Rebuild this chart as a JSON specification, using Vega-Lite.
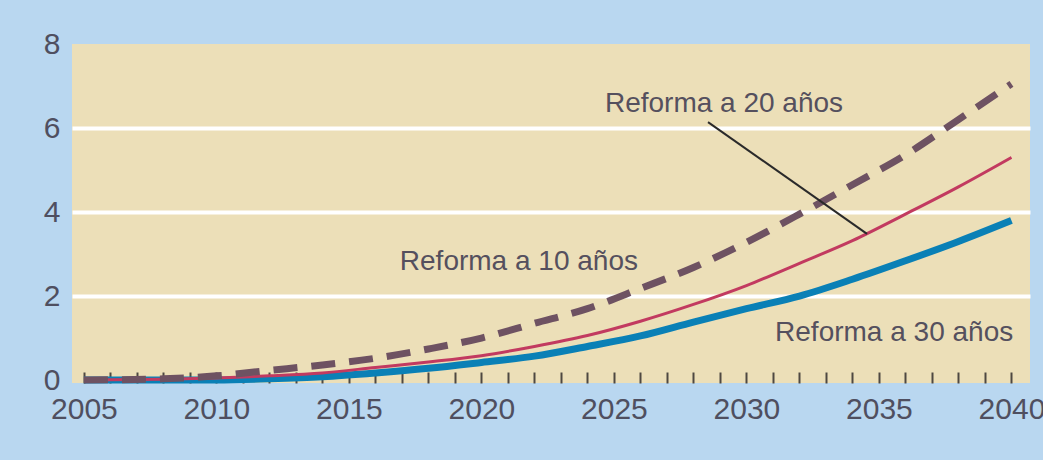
{
  "$schema": "https://vega.github.io/schema/vega-lite/v6.json",
  "width": 958,
  "height": 339,
  "autosize": {"type": "none"},
  "padding": {"left": 72, "top": 44, "right": 13, "bottom": 77},
  "background": "#b9d7f0",
  "config": {
    "view": {"fill": "#ecdfb8", "stroke": null},
    "font": "Liberation Sans"
  },
  "datasets": {
    "lines": [
      {"year": 2005, "value": 0, "serie": "10"},
      {"year": 2008, "value": 0.03, "serie": "10"},
      {"year": 2010, "value": 0.1, "serie": "10"},
      {"year": 2012, "value": 0.23, "serie": "10"},
      {"year": 2014, "value": 0.36, "serie": "10"},
      {"year": 2016, "value": 0.52, "serie": "10"},
      {"year": 2018, "value": 0.74, "serie": "10"},
      {"year": 2020, "value": 1.0, "serie": "10"},
      {"year": 2022, "value": 1.35, "serie": "10"},
      {"year": 2024, "value": 1.7, "serie": "10"},
      {"year": 2026, "value": 2.18, "serie": "10"},
      {"year": 2028, "value": 2.68, "serie": "10"},
      {"year": 2030, "value": 3.28, "serie": "10"},
      {"year": 2032, "value": 3.95, "serie": "10"},
      {"year": 2034, "value": 4.65, "serie": "10"},
      {"year": 2036, "value": 5.36, "serie": "10"},
      {"year": 2038, "value": 6.2, "serie": "10"},
      {"year": 2040, "value": 7.05, "serie": "10"},
      {"year": 2005, "value": 0, "serie": "20"},
      {"year": 2008, "value": 0.02, "serie": "20"},
      {"year": 2010, "value": 0.05, "serie": "20"},
      {"year": 2012, "value": 0.1, "serie": "20"},
      {"year": 2014, "value": 0.17, "serie": "20"},
      {"year": 2016, "value": 0.3, "serie": "20"},
      {"year": 2018, "value": 0.43, "serie": "20"},
      {"year": 2020, "value": 0.58, "serie": "20"},
      {"year": 2022, "value": 0.8, "serie": "20"},
      {"year": 2024, "value": 1.06, "serie": "20"},
      {"year": 2026, "value": 1.4, "serie": "20"},
      {"year": 2028, "value": 1.8, "serie": "20"},
      {"year": 2030, "value": 2.25, "serie": "20"},
      {"year": 2032, "value": 2.78, "serie": "20"},
      {"year": 2034, "value": 3.32, "serie": "20"},
      {"year": 2036, "value": 3.95, "serie": "20"},
      {"year": 2038, "value": 4.6, "serie": "20"},
      {"year": 2040, "value": 5.3, "serie": "20"},
      {"year": 2005, "value": 0, "serie": "30"},
      {"year": 2010, "value": 0.0, "serie": "30"},
      {"year": 2012, "value": 0.03, "serie": "30"},
      {"year": 2014, "value": 0.08, "serie": "30"},
      {"year": 2016, "value": 0.17, "serie": "30"},
      {"year": 2018, "value": 0.28, "serie": "30"},
      {"year": 2020, "value": 0.42, "serie": "30"},
      {"year": 2022, "value": 0.57, "serie": "30"},
      {"year": 2024, "value": 0.8, "serie": "30"},
      {"year": 2026, "value": 1.05, "serie": "30"},
      {"year": 2028, "value": 1.38, "serie": "30"},
      {"year": 2030, "value": 1.7, "serie": "30"},
      {"year": 2032, "value": 2.0, "serie": "30"},
      {"year": 2034, "value": 2.4, "serie": "30"},
      {"year": 2036, "value": 2.84, "serie": "30"},
      {"year": 2038, "value": 3.3, "serie": "30"},
      {"year": 2040, "value": 3.8, "serie": "30"}
    ],
    "labels": [
      {"text": "Reforma a 20 años", "year": 2024.66, "value": 6.57},
      {"text": "Reforma a 10 años", "year": 2016.92, "value": 2.8},
      {"text": "Reforma a 30 años", "year": 2031.08, "value": 1.12}
    ],
    "pointer": [
      {"year": 2028.55, "value": 6.14, "year2": 2034.55, "value2": 3.48}
    ]
  },
  "encoding": {
    "x": {
      "field": "year", "type": "quantitative",
      "scale": {"domain": [2004.55, 2040.7], "nice": false, "zero": false},
      "axis": {
        "title": null, "domain": false, "grid": false,
        "values": [2005,2006,2007,2008,2009,2010,2011,2012,2013,2014,2015,2016,2017,2018,2019,2020,2021,2022,2023,2024,2025,2026,2027,2028,2029,2030,2031,2032,2033,2034,2035,2036,2037,2038,2039,2040],
        "labelExpr": "datum.value % 5 == 0 ? datum.value : ''",
        "ticks": true, "tickSize": -11, "tickWidth": 2, "tickColor": "#4e4842",
        "labelFontSize": 30, "labelColor": "#4f4f60", "labelPadding": 22,
        "labelOverlap": false, "labelFlush": false
      }
    },
    "y": {
      "field": "value", "type": "quantitative",
      "scale": {"domain": [-0.07, 8], "nice": false, "zero": false},
      "axis": {
        "title": null, "domain": false, "ticks": false,
        "values": [0, 2, 4, 6, 8],
        "grid": true,
        "gridColor": {"condition": {"test": "datum.value == 0 || datum.value == 8", "value": "transparent"}, "value": "#ffffff"},
        "gridWidth": 4,
        "labelFontSize": 30, "labelColor": "#4f4f60", "labelPadding": 12
      }
    }
  },
  "layer": [
    {
      "data": {"name": "lines"},
      "transform": [{"filter": "datum.serie == '30'"}],
      "mark": {"type": "line", "color": "#0a80b6", "strokeWidth": 7, "interpolate": "monotone"}
    },
    {
      "data": {"name": "lines"},
      "transform": [{"filter": "datum.serie == '20'"}],
      "mark": {"type": "line", "color": "#c23a60", "strokeWidth": 3, "interpolate": "monotone"}
    },
    {
      "data": {"name": "lines"},
      "transform": [{"filter": "datum.serie == '10'"}],
      "mark": {"type": "line", "color": "#6e5262", "strokeWidth": 7, "strokeDash": [24, 14], "interpolate": "monotone"}
    },
    {
      "data": {"name": "pointer"},
      "mark": {"type": "rule", "color": "#2a2a2a", "strokeWidth": 2},
      "encoding": {
        "x2": {"field": "year2"},
        "y2": {"field": "value2"}
      }
    },
    {
      "data": {"name": "labels"},
      "mark": {"type": "text", "align": "left", "baseline": "middle", "fontSize": 28, "color": "#55505e"},
      "encoding": {"text": {"field": "text"}}
    }
  ]
}
